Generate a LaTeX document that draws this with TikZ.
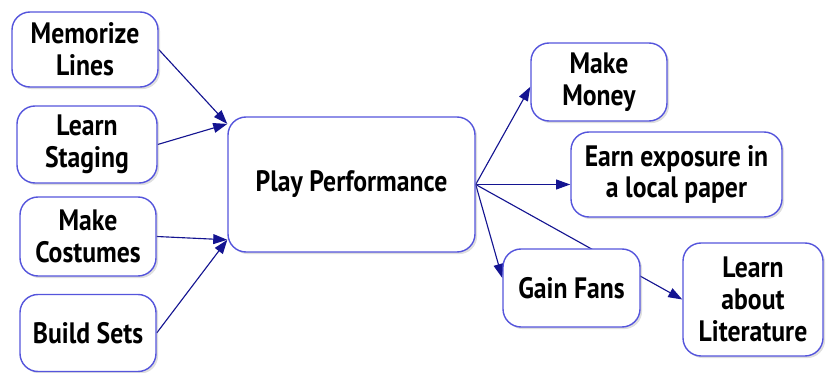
\documentclass[tikz,border=0pt]{standalone}
\usepackage{fontspec}
\setmainfont{PT Sans}[FakeStretch=0.87]
\usetikzlibrary{arrows.meta,shadows,backgrounds}
\definecolor{boxblue}{RGB}{85,85,220}
\definecolor{linkblue}{RGB}{20,20,145}

\begin{document}
\begin{tikzpicture}[
    idea/.style={rounded corners=0.45cm,draw=boxblue,line width=1pt,fill=white,align=center,
                 font=\bfseries\fontsize{21}{22.5}\selectfont,
                 drop shadow={opacity=0.25,shadow xshift=1.5pt,shadow yshift=-1.5pt}},
    link/.style={-{Triangle[length=10pt,width=7pt]},draw=linkblue,line width=0.8pt}
]
\useasboundingbox (0,0) rectangle (20.75,9.325);

\path
(2.125,8.0875) node[idea,minimum width=3.65cm,minimum height=1.875cm](memo) {Memorize\\Lines}
(2.175,5.7125) node[idea,minimum width=3.5cm,minimum height=1.925cm](stag) {Learn\\Staging}
(2.2,3.4125) node[idea,minimum width=3.4cm,minimum height=1.975cm](cost) {Make\\Costumes}
(2.2,1.0) node[idea,minimum width=3.4cm,minimum height=1.925cm](sets) {Build Sets}
(8.7875,4.7125) node[idea,minimum width=6.175cm,minimum height=3.375cm](play) {Play Performance}
(14.975,7.275) node[idea,minimum width=3.4cm,minimum height=1.95cm](money) {Make\\Money}
(16.9125,4.9625) node[idea,minimum width=5.275cm,minimum height=2.125cm](earn) {Earn exposure in\\a local paper}
(14.2875,2.125) node[idea,minimum width=3.425cm,minimum height=1.95cm](fans) {Gain Fans}
(18.825,1.8375) node[idea,minimum width=3.5cm,minimum height=2.825cm](lit) {Learn\\about\\Literature};

\begin{scope}[on background layer]
\draw[link] (memo.east) -- (play.154);
\draw[link] (stag.east) -- (play.154);
\draw[link] (cost.east) -- (play.204);
\draw[link] (sets.east) -- (play.204);

\draw[link] (play.east) -- ([yshift=-0.12cm]money.west);
\draw[link] (play.east) -- (play.east -| earn.west);
\draw[link] (play.east) -- ([yshift=0.25cm]fans.west);
\draw[link] (play.east) -- (lit.west);
\end{scope}
\end{tikzpicture}
\end{document}
